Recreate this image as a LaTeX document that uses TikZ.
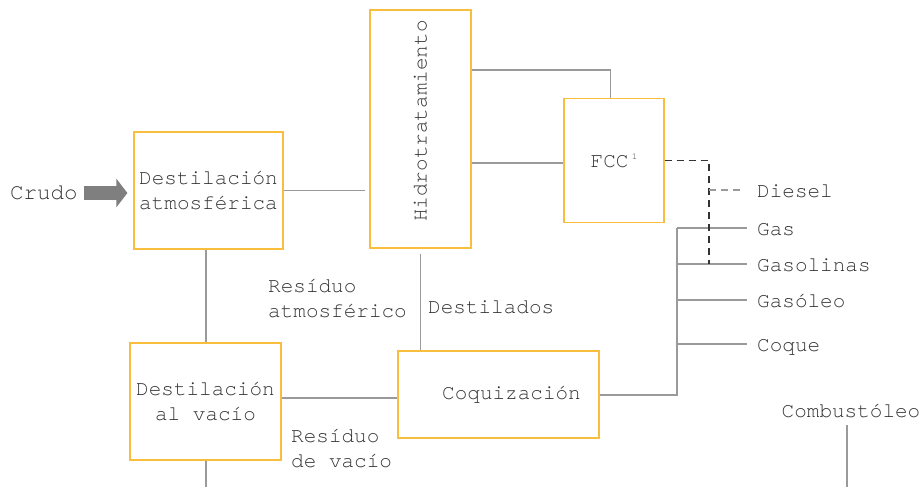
\documentclass[tikz,border=0pt]{standalone}
\usepackage{fontspec}
\setmainfont{TeX Gyre Cursor}
\usepackage{graphicx}
\usetikzlibrary{arrows.meta}
\definecolor{boxc}{HTML}{F9BE3E}
\definecolor{linec}{HTML}{9A9A9A}
\definecolor{txtc}{HTML}{333333}
\definecolor{arrc}{HTML}{7F7F7F}
\begin{document}
\begin{tikzpicture}[x=1pt,y=-1pt,
  every node/.style={text=txtc, font=\fontsize{21}{25}\selectfont},
  box/.style={draw=boxc, line width=1.2pt, inner sep=0pt, align=center},
  conn/.style={draw=linec, line width=1.2pt},
  fccd/.style={draw=txtc, line width=1.3pt, dash pattern=on 7pt off 5pt},
  dieseld/.style={draw=linec, line width=1.3pt, dash pattern=on 7pt off 5pt},
  lbl/.style={inner sep=0pt, anchor=west, text height=12pt, text depth=0pt},
  mlbl/.style={inner sep=0pt, anchor=west, align=left}]
\useasboundingbox (0,0) rectangle (919,487);

% boxes
\node[box, minimum width=149pt, minimum height=117pt] (atm) at (208.5,190.5) {Destilación\\atmosférica};
\node[box, minimum width=101pt, minimum height=238pt] (hid) at (420.5,129) {\rotatebox{90}{\hspace*{16pt}Hidrotratamiento}};
\node[box, minimum width=100pt, minimum height=124pt] (fcc) at (614,160.5) {FCC\,\raisebox{8pt}{\fontsize{9}{9}\selectfont 1}};
\node[box, minimum width=151pt, minimum height=117pt] (vac) at (205.5,401.5) {Destilación\\al vacío};
\node[box, minimum width=201pt, minimum height=87pt] (coq) at (498.5,394.5) {\hspace*{26pt}Coquización};

% labels
\node[lbl, font=\fontsize{22.5}{25}\selectfont] (crudo) at (10,193) {Crudo};
\node[mlbl] (resatm) at (268,298) {Resíduo\\atmosférico};
\node[lbl] (dest) at (428,307) {Destilados};
\node[mlbl] (resvac) at (291,448) {Resíduo\\de vacío};
\node[lbl] (diesel) at (757,191.5) {Diesel};
\node[lbl] (gas) at (757,229.5) {Gas};
\node[lbl] (gasol) at (757,265.5) {Gasolinas};
\node[lbl] (gasoleo) at (757,301.5) {Gasóleo};
\node[lbl] (coque) at (757,345.5) {Coque};
\node[lbl, anchor=center] (comb) at (851,411) {Combustóleo};

% helper coordinates
\coordinate (x206) at (206,0);
\coordinate (x610) at (610.5,0);
\coordinate (y70) at (0,70);
\coordinate (y163) at (0,163);
\coordinate (y398) at (0,398);
\coordinate (y395) at (0,395);
\coordinate (bot) at (206,487);
\coordinate (bus) at (677,228);
\coordinate (dv) at (709,264);
\coordinate (dj) at (709,190);
\coordinate (cb) at (847,487);

% arrow
\draw[draw=arrc, line width=14pt, -{Triangle[length=11pt,width=28pt]}, shorten <=6.5pt, shorten >=6pt]
  (crudo.east) -- (crudo.east -| atm.west);

% connectors
\draw[conn] (atm.east) -- ([xshift=-4pt]hid.west |- atm.east);
\draw[conn] (hid.east |- y163) -- (fcc.west |- y163);
\draw[conn] (hid.east |- y70) -| (fcc.north -| x610);
\draw[conn] (atm.south -| x206) -- (vac.north -| x206);
\draw[conn] ([yshift=-5pt]hid.south) -- (hid.south |- coq.north);
\draw[conn] (vac.east |- y398) -- (coq.west |- y398);
\draw[conn] (vac.south -| bot) -- (bot);
\draw[conn] (coq.east |- y395) -| (bus);
\draw[conn] (bus) -- ([xshift=-10pt,yshift=1.5pt]gas.west);
\draw[conn] ([yshift=1.5pt]gasol.west -| bus) -- ([xshift=-10pt,yshift=1.5pt]gasol.west);
\draw[conn] ([yshift=1.5pt]gasoleo.west -| bus) -- ([xshift=-10pt,yshift=1.5pt]gasoleo.west);
\draw[conn] ([yshift=1.5pt]coque.west -| bus) -- ([xshift=-10pt,yshift=1.5pt]coque.west);
\draw[fccd] (fcc.east) -| (dv);
\draw[dieseld] (dj) -- ([xshift=-15pt,yshift=1.5pt]diesel.west);
\draw[conn] ([yshift=-8pt]comb.south -| cb) -- (cb);
\end{tikzpicture}
\end{document}
